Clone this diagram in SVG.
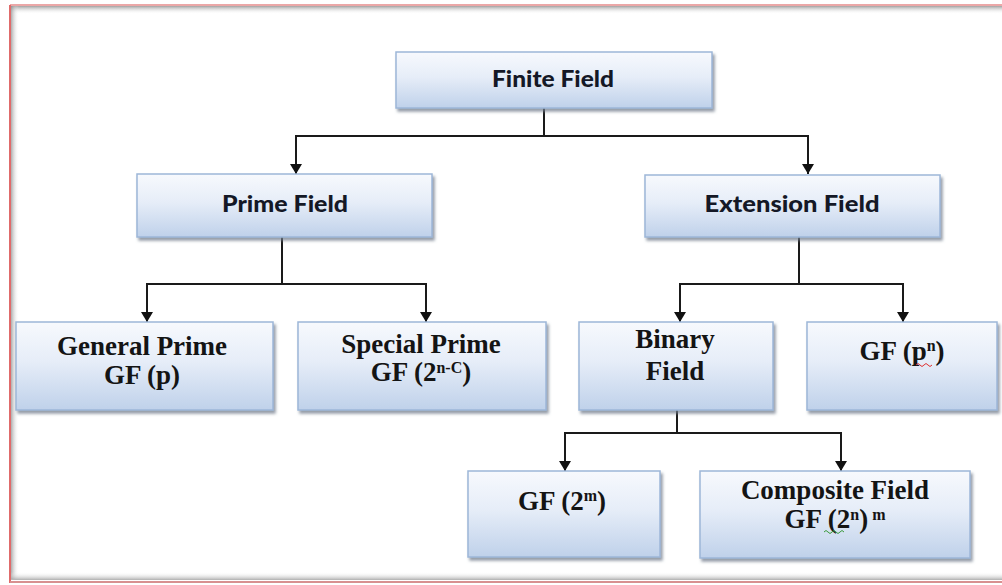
<svg xmlns="http://www.w3.org/2000/svg" width="1002" height="585" viewBox="0 0 1002 585">
<defs>
  <linearGradient id="boxg" x1="0" y1="0" x2="0" y2="1">
    <stop offset="0" stop-color="#f7f9fd"/>
    <stop offset="0.45" stop-color="#e6edf8"/>
    <stop offset="1" stop-color="#bfd1ea"/>
  </linearGradient>
  <linearGradient id="topsh" x1="0" y1="0" x2="0" y2="1">
    <stop offset="0" stop-color="#8a8a8a" stop-opacity="0.8"/>
    <stop offset="1" stop-color="#ffffff" stop-opacity="0"/>
  </linearGradient>
  <linearGradient id="leftsh" x1="0" y1="0" x2="1" y2="0">
    <stop offset="0" stop-color="#8a8a8a" stop-opacity="0.7"/>
    <stop offset="1" stop-color="#ffffff" stop-opacity="0"/>
  </linearGradient>
  <linearGradient id="botsh" x1="0" y1="0" x2="0" y2="1">
    <stop offset="0" stop-color="#ffffff" stop-opacity="0"/>
    <stop offset="1" stop-color="#9a9a9a" stop-opacity="0.8"/>
  </linearGradient>
  <filter id="sh" x="-5%" y="-10%" width="115%" height="130%">
    <feDropShadow dx="2" dy="3" stdDeviation="1.5" flood-color="#6f7b8a" flood-opacity="0.75"/>
  </filter>
  <marker id="ah" viewBox="0 0 10 12" refX="10" refY="6" markerWidth="10" markerHeight="12" markerUnits="userSpaceOnUse" orient="auto">
    <path d="M0,0 L10,6 L0,12 Z" fill="#111"/>
  </marker>
  <style>
    .box{fill:url(#boxg);stroke:#9db6d8;stroke-width:1.5;filter:url(#sh)}
    .cal{font-family:Lato,"Open Sans","Liberation Sans",sans-serif;font-weight:900;font-size:22px;fill:#141826;text-anchor:middle}
    .tnr{font-family:"Liberation Serif","Times New Roman",serif;font-weight:bold;font-size:27px;fill:#141414;text-anchor:middle}
    .sup{font-size:16px}
    .con{fill:none;stroke:#1a1a1a;stroke-width:2}
    .arr{fill:none;stroke:#1a1a1a;stroke-width:2;marker-end:url(#ah)}
  </style>
</defs>

<rect x="0" y="0" width="1002" height="585" fill="#ffffff"/>
<g id="frame">
  <rect x="11" y="6" width="991" height="8" fill="url(#topsh)"/>
  <rect x="11" y="6" width="8" height="573" fill="url(#leftsh)"/>
  <rect x="11" y="572" width="991" height="8" fill="url(#botsh)"/>
  <line x1="10" y1="5" x2="1002" y2="5" stroke="#e58a8a" stroke-width="1.5"/>
  <line x1="10" y1="5" x2="10" y2="583" stroke="#e06b6b" stroke-width="2"/>
  <line x1="10" y1="582" x2="1002" y2="582" stroke="#d89090" stroke-width="2"/>
</g>

<g id="connectors">
  <path class="con" d="M544,108 V136 M296,136 H808"/>
  <path class="arr" d="M296,135 V174"/>
  <path class="arr" d="M808,135 V174"/>
  <path class="con" d="M282,237 V284 M147,284 H426"/>
  <path class="arr" d="M147,283 V322"/>
  <path class="arr" d="M426,283 V322"/>
  <path class="con" d="M799,237 V284 M680,284 H903"/>
  <path class="arr" d="M680,283 V322"/>
  <path class="arr" d="M903,283 V322"/>
  <path class="con" d="M677,410 V433 M565,433 H841"/>
  <path class="arr" d="M565,432 V471"/>
  <path class="arr" d="M841,432 V471"/>
</g>

<g id="finite-field">
  <rect class="box" x="396" y="52" width="316" height="56"/>
  <text class="cal" x="553" y="87" textLength="122" lengthAdjust="spacingAndGlyphs">Finite Field</text>
</g>
<g id="prime-field">
  <rect class="box" x="137" y="174" width="295" height="63"/>
  <text class="cal" x="285" y="212" textLength="126" lengthAdjust="spacingAndGlyphs">Prime Field</text>
</g>
<g id="extension-field">
  <rect class="box" x="645" y="175" width="295" height="62"/>
  <text class="cal" x="792" y="212" textLength="175" lengthAdjust="spacingAndGlyphs">Extension Field</text>
</g>
<g id="general-prime">
  <rect class="box" x="16" y="322" width="257" height="88"/>
  <text class="tnr" x="142" y="355">General Prime</text>
  <text class="tnr" x="142" y="384">GF (p)</text>
</g>
<g id="special-prime">
  <rect class="box" x="298" y="322" width="248" height="88"/>
  <text class="tnr" x="421" y="353">Special Prime</text>
  <text class="tnr" x="421" y="381">GF (2<tspan class="sup" dy="-8">n-C</tspan><tspan dy="8">)</tspan></text>
</g>
<g id="binary-field">
  <rect class="box" x="579" y="322" width="194" height="88"/>
  <text class="tnr" x="675" y="348">Binary</text>
  <text class="tnr" x="675" y="380">Field</text>
</g>
<g id="gf-pn">
  <rect class="box" x="807" y="322" width="190" height="88"/>
  <text class="tnr" x="902" y="360">GF (p<tspan class="sup" dy="-9">n</tspan><tspan dy="9">)</tspan></text>
  <path d="M916,365 q2,-3 4,0 t4,0 t4,0 t4,0" fill="none" stroke="#e03030" stroke-width="1"/>
</g>
<g id="gf-2m">
  <rect class="box" x="468" y="471" width="192" height="86"/>
  <text class="tnr" x="562" y="510">GF (2<tspan class="sup" dy="-9">m</tspan><tspan dy="9">)</tspan></text>
</g>
<g id="composite-field">
  <rect class="box" x="700" y="471" width="270" height="87"/>
  <text class="tnr" x="835" y="499">Composite Field</text>
  <text class="tnr" x="835" y="528">GF (2<tspan class="sup" dy="-8">n</tspan><tspan dy="8">)</tspan><tspan class="sup" dy="-8"> m</tspan></text>
  <path d="M824,532 q2,-3 4,0 t4,0 t4,0 t4,0 t4,0" fill="none" stroke="#3a9a3a" stroke-width="1"/>
</g>
</svg>
